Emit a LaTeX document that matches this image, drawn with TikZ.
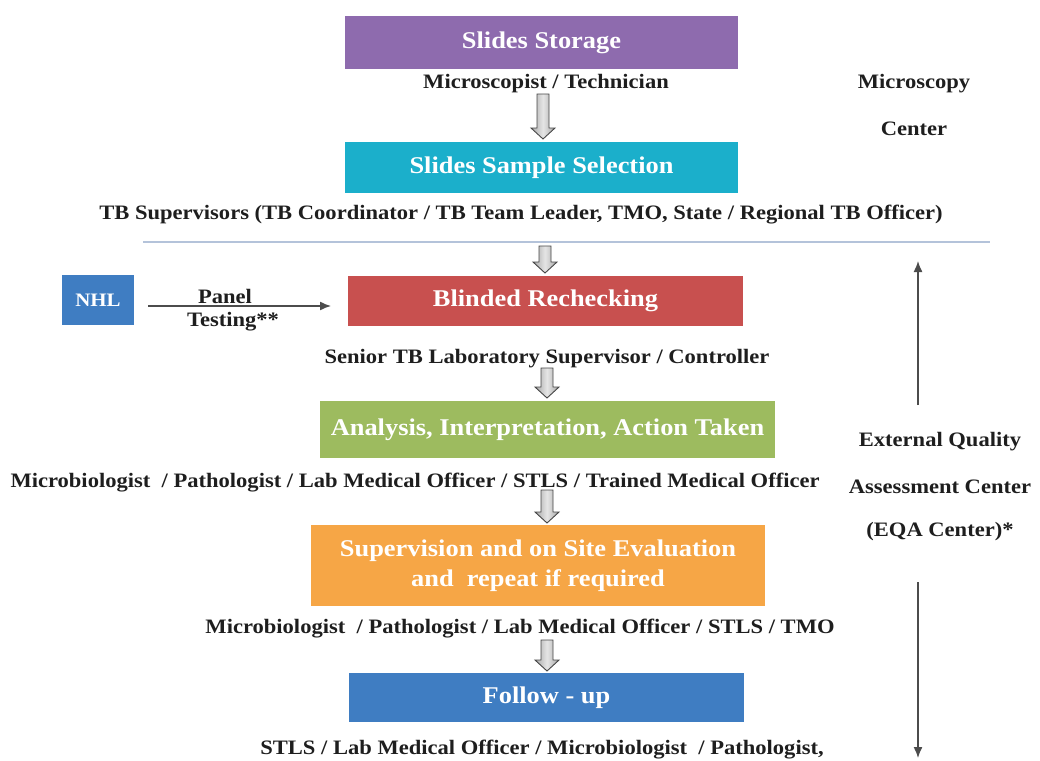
\documentclass[tikz,border=0pt]{standalone}
\usepackage{fontspec}
\setmainfont{Liberation Serif}[FakeStretch=1.1]
\usetikzlibrary{arrows.meta}
\definecolor{purpleC}{HTML}{8E6BAE}
\definecolor{cyanC}{HTML}{1BAFCB}
\definecolor{redC}{HTML}{C8504F}
\definecolor{greenC}{HTML}{9DBB5F}
\definecolor{orangeC}{HTML}{F6A646}
\definecolor{blueC}{HTML}{3F7DC2}
\definecolor{lineC}{HTML}{B4C3DA}
\definecolor{txtC}{HTML}{1E1E1E}
\tikzset{
  box/.style={rectangle, draw=none, text=white, align=center,
    font=\fontsize{24}{30}\selectfont\bfseries, inner sep=0pt},
  lbl/.style={text=txtC, font=\fontsize{20.5}{22}\selectfont\bfseries, inner sep=0pt},
  hollowst/.style={draw=gray!55!black, line width=0.9pt,
    left color=gray!70, right color=gray!70, middle color=gray!20, shading angle=90},
  thin/.style={draw=black!70, line width=1.4pt, -{Latex[length=11pt,width=9pt]}}
}
% hollow arrow: x, top y, bottom y
\newcommand\harrow[3]{%
  \draw[hollowst] (#1-6,#2) -- (#1+6,#2) -- (#1+6,#3-11) -- (#1+12,#3-11) -- (#1,#3)
    -- (#1-12,#3-11) -- (#1-6,#3-11) -- cycle;}
\begin{document}
\begin{tikzpicture}[x=1pt,y=-1pt]
\useasboundingbox (0,0) rectangle (1040,760);
% boxes
\node[box, fill=purpleC, minimum width=393pt, minimum height=53pt] (storage) at (541.5,42.5) {Slides Storage};
\node[lbl] (tech) at (546,84) {Microscopist / Technician};
\node[box, fill=cyanC, minimum width=393pt, minimum height=51pt] (select) at (541.5,167.5) {Slides Sample Selection};
\node[lbl] (sup) at (521,215) {TB Supervisors (TB Coordinator / TB Team Leader, TMO, State / Regional TB Officer)};
\node[lbl] (micro1) at (914,84) {Microscopy};
\node[lbl] (micro2) at (914,129) {Center};
\draw[lineC, line width=1.5pt] (143,242) -- (990,242);
\node[box, fill=redC, minimum width=395pt, minimum height=50pt] (blind) at (545.5,301) {Blinded Rechecking};
\node[box, fill=blueC, minimum width=72pt, minimum height=50pt, font=\fontsize{19}{20}\selectfont\bfseries] (nhl) at (98,300) {NHL};
\coordinate (nhlE) at (148,306);
\coordinate (blindW) at (331,306);
\draw[thin] (nhlE) -- (blindW);
\node[lbl] (panel) at (225,296) {Panel};
\node[lbl] (testing) at (233,322) {Testing**};
\node[lbl] (senior) at (547,359) {Senior TB Laboratory Supervisor / Controller};
\node[box, fill=greenC, minimum width=455pt, minimum height=57pt] (analysis) at (547.5,429.5) {Analysis, Interpretation, Action Taken};
\node[lbl] (mic2) at (415,483) {Microbiologist~ / Pathologist / Lab Medical Officer / STLS / Trained Medical Officer};
\node[box, fill=orangeC, minimum width=454pt, minimum height=81pt] (supervision) at (538,565.5) {Supervision and on Site Evaluation\\and~ repeat if required};
\node[lbl] (mic3) at (520,629) {Microbiologist~ / Pathologist / Lab Medical Officer / STLS / TMO};
\node[box, fill=blueC, minimum width=395pt, minimum height=49pt] (follow) at (546.5,697.5) {Follow - up};
\node[lbl] (stls) at (542,750) {STLS / Lab Medical Officer / Microbiologist~ / Pathologist,};
% hollow arrows
\harrow{543}{94}{139}
\harrow{545}{246}{273}
\harrow{547}{368}{398}
\harrow{547}{490}{523}
\harrow{547}{640}{671}
% EQA side
\node[lbl] (eqa1) at (940,442) {External Quality};
\node[lbl] (eqa2) at (940,487) {Assessment Center};
\node[lbl] (eqa3) at (940,532) {(EQA Center)*};
\coordinate (upS) at (918,405);
\coordinate (upE) at (918,261);
\coordinate (dnS) at (918,582);
\coordinate (dnE) at (918,758);
\draw[thin] (upS) -- (upE);
\draw[thin] (dnS) -- (dnE);
\end{tikzpicture}
\end{document}
